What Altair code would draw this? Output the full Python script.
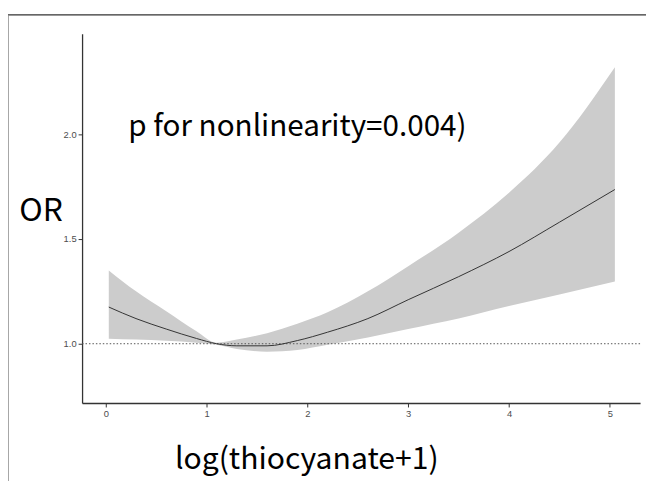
import altair as alt
import pandas as pd

# Values
x_vals = [0.03, 0.3, 0.6, 0.9, 1.1, 1.3, 1.6, 1.9, 2.2, 2.6, 3.0, 3.5, 4.0, 4.5, 5.05]
or_vals = [1.175, 1.12, 1.07, 1.025, 1.0, 0.99, 0.99, 1.015, 1.055, 1.12, 1.21, 1.32, 1.44, 1.58, 1.736]
upper_vals = [1.35, 1.25, 1.155, 1.06, 1.005, 1.02, 1.05, 1.095, 1.15, 1.25, 1.37, 1.53, 1.72, 1.96, 2.32]
lower_vals = [1.024, 1.02, 1.014, 1.005, 0.995, 0.975, 0.962, 0.97, 0.995, 1.03, 1.07, 1.12, 1.18, 1.235, 1.297]
x_ticks = [0, 1, 2, 3, 4, 5]
y_ticks = [1.0, 1.5, 2.0]
ref_value = 1.0
annotation = "p for nonlinearity=0.004)"
x_title = "log(thiocyanate+1)"
y_title = "OR"

df = pd.DataFrame({"x": x_vals, "OR": or_vals, "upper": upper_vals, "lower": lower_vals})

W, H = 565, 374
FONT = "Noto Sans CJK SC"
FS = 30
FW = "normal"

xs = alt.Scale(domain=[-0.235, 5.30], nice=False, zero=False)
ys = alt.Scale(domain=[0.717, 2.48], nice=False, zero=False)

xaxis = alt.Axis(values=x_ticks, title=x_title, grid=False, format="d",
                 titleFont=FONT, titleFontSize=FS + 0.5, titleFontWeight=FW, titleColor="#000",
                 titleX=227, titleY=66, titleBaseline="alphabetic", titleAlign="center")
yaxis = alt.Axis(values=y_ticks, title=y_title, grid=False, format=".1f",
                 titleFont=FONT, titleFontSize=FS + 2, titleFontWeight=FW, titleColor="#000",
                 titleAngle=0, titleX=-42, titleY=189, titleBaseline="alphabetic", titleAlign="center")

band = alt.Chart(df).mark_area(color="#cccccc", opacity=1, interpolate="monotone").encode(
    x=alt.X("x:Q", scale=xs, axis=xaxis),
    y=alt.Y("lower:Q", scale=ys, axis=yaxis),
    y2="upper:Q",
)

line = alt.Chart(df).mark_line(color="#333333", strokeWidth=1, interpolate="monotone").encode(
    x=alt.X("x:Q", scale=xs),
    y=alt.Y("OR:Q", scale=ys),
)

ref = alt.Chart(pd.DataFrame({"r": [ref_value]})).mark_rule(
    color="#555555", strokeDash=[1.5, 2], strokeWidth=1
).encode(y=alt.Y("r:Q", scale=ys))

text = alt.Chart(pd.DataFrame({"t": [annotation]})).mark_text(
    font=FONT, fontSize=FS, fontWeight=FW, color="#000", align="center", baseline="alphabetic"
).encode(text="t:N", x=alt.value(218), y=alt.value(104))

frame_top = alt.Chart(pd.DataFrame({"a": [0]})).mark_rule(color="#333333", strokeWidth=1.5).encode(
    x=alt.value(-75), x2=alt.value(W + 6), y=alt.value(-19))
frame_left = alt.Chart(pd.DataFrame({"a": [0]})).mark_rule(color="#888888", strokeWidth=1.5).encode(
    x=alt.value(-75), y=alt.value(-19), y2=alt.value(H + 80))

chart = alt.layer(band, ref, line, text, frame_top, frame_left).properties(
    width=W, height=H,
    autosize=alt.AutoSizeParams(type="none"),
    padding={"left": 75, "top": 23, "right": 6, "bottom": 76},
).configure_axis(
    domainColor="#333333", domainWidth=1.3, tickColor="#333333", tickSize=4, tickWidth=1,
    labelColor="#4d4d4d", labelFontSize=9.5, labelFont="Liberation Sans", labelPadding=2,
).configure_view(strokeWidth=0)

chart.save("out.html", embed_options={"renderer": "svg", "actions": False})
